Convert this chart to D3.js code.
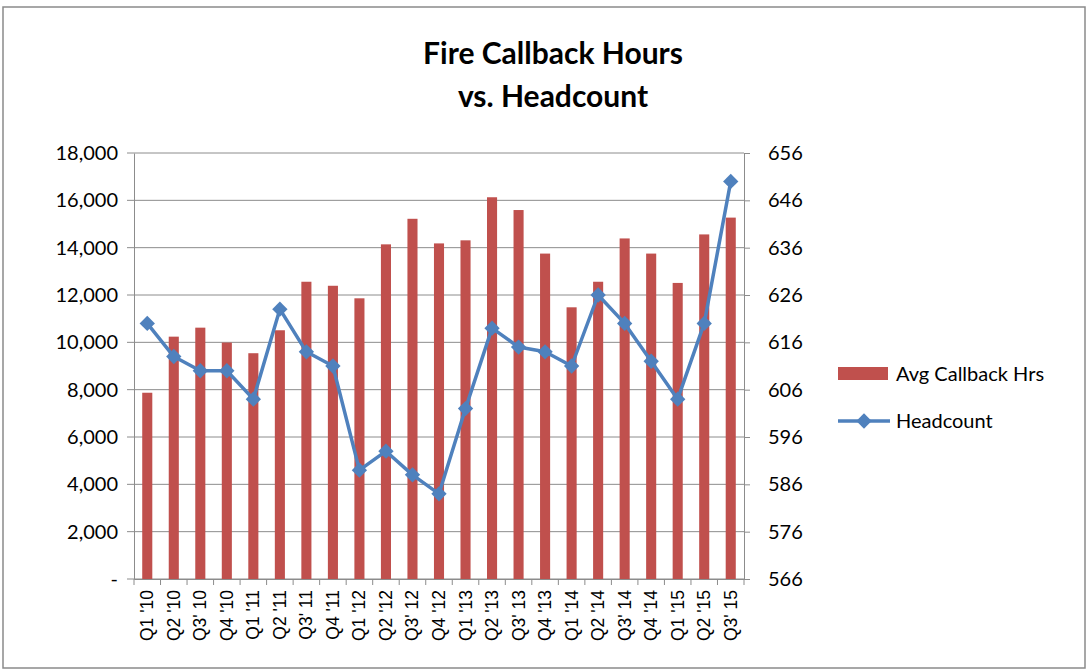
<!DOCTYPE html>
<html>
<head>
<meta charset="utf-8">
<script src="https://cdn.jsdelivr.net/npm/d3@7"></script>
<style>
  body { margin: 0; background: #fff; }
  svg { display: block; }
</style>
</head>
<body>
<svg id="chart" width="1090" height="669"></svg>
<script>
// quarters on the x axis
const quarters = ["Q1 '10", "Q2 '10", "Q3' 10", "Q4 '10",
                  "Q1 '11", "Q2 '11", "Q3' 11", "Q4 '11",
                  "Q1 '12", "Q2 '12", "Q3' 12", "Q4 '12",
                  "Q1 '13", "Q2 '13", "Q3' 13", "Q4 '13",
                  "Q1 '14", "Q2 '14", "Q3' 14", "Q4 '14",
                  "Q1 '15", "Q2 '15", "Q3' 15"];
// bar series (left axis)
const callbackHrs = [7870, 10240, 10620, 9990, 9540, 10510, 12560, 12390,
                     11860, 14140, 15220, 14180, 14310, 16130, 15590, 13750,
                     11480, 12560, 14390, 13750, 12510, 14560, 15270];
// line series (right axis)
const headcount = [620, 613, 610, 610, 604, 623, 614, 611,
                   589, 593, 588, 584, 602, 619, 615, 614,
                   611, 626, 620, 612, 604, 620, 650];
// tick values
const leftTicks = [0, 2000, 4000, 6000, 8000, 10000, 12000, 14000, 16000, 18000];
const rightTicks = [566, 576, 586, 596, 606, 616, 626, 636, 646, 656];

const plot = { left: 134, right: 744, top: 153, bottom: 579 };
const barColor = "#C0504D";
const lineColor = "#4F81BD";
const gridColor = "#8C8C8C";
const labelFont = "Lato, 'Open Sans', sans-serif";

const svg = d3.select("#chart");

// outer frame
svg.append("rect")
  .attr("x", 3).attr("y", 7)
  .attr("width", 1082).attr("height", 661)
  .attr("fill", "#fff")
  .attr("stroke", "#8a8a8a")
  .attr("stroke-width", 1.5);

// title
const title = svg.append("text")
  .attr("text-anchor", "middle")
  .attr("font-family", labelFont)
  .attr("font-weight", "bold")
  .attr("font-size", 30)
  .attr("fill", "#000");
title.append("tspan").attr("x", 553).attr("y", 64).text("Fire Callback Hours");
title.append("tspan").attr("x", 553).attr("y", 107).text("vs. Headcount");

// scales
const x = d3.scaleBand()
  .domain(quarters)
  .range([plot.left, plot.right])
  .paddingInner(0.62)
  .paddingOuter(0.31);
const xCenter = d => x(d) + x.bandwidth() / 2;

const yLeft = d3.scaleLinear().domain([0, 18000]).range([plot.bottom, plot.top]);
const yRight = d3.scaleLinear().domain([566, 656]).range([plot.bottom, plot.top]);

// gridlines (with tick stubs to the left)
svg.append("g")
  .selectAll("line")
  .data(leftTicks)
  .join("line")
  .attr("x1", plot.left - 7).attr("x2", plot.right)
  .attr("y1", d => yLeft(d)).attr("y2", d => yLeft(d))
  .attr("stroke", gridColor).attr("stroke-width", 1);

// left axis
const leftAxis = d3.axisLeft(yLeft)
  .tickValues(leftTicks)
  .tickSize(0)
  .tickPadding(16)
  .tickFormat(d => d === 0 ? "-" : d3.format(",")(d));
const gl = svg.append("g").attr("transform", `translate(${plot.left},0)`).call(leftAxis);
gl.select(".domain").attr("stroke", gridColor);
gl.selectAll("text").attr("font-family", labelFont).attr("font-size", 20).attr("fill", "#000");

// right axis
const rightAxis = d3.axisRight(yRight)
  .tickValues(rightTicks)
  .tickSize(6)
  .tickPadding(18);
const gr = svg.append("g").attr("transform", `translate(${plot.right},0)`).call(rightAxis);
gr.select(".domain").attr("stroke", gridColor);
gr.selectAll("line").attr("stroke", gridColor);
gr.selectAll("text").attr("font-family", labelFont).attr("font-size", 20).attr("fill", "#000");

// bottom axis
const xAxis = d3.axisBottom(x).tickSize(0).tickFormat("");
const gx = svg.append("g").attr("transform", `translate(0,${plot.bottom})`).call(xAxis);
gx.select(".domain").attr("stroke", gridColor);
// category boundary ticks
const boundaries = d3.range(quarters.length + 1).map(i => plot.left + i * (plot.right - plot.left) / quarters.length);
gx.selectAll(".bound")
  .data(boundaries)
  .join("line")
  .attr("class", "bound")
  .attr("x1", d => d).attr("x2", d => d)
  .attr("y1", 0).attr("y2", 6)
  .attr("stroke", gridColor);

// rotated quarter labels
svg.append("g")
  .selectAll("text")
  .data(quarters)
  .join("text")
  .attr("transform", d => `translate(${xCenter(d) + 6},${plot.bottom + 11}) rotate(-90)`)
  .attr("text-anchor", "end")
  .attr("font-family", "'Liberation Sans', Arial, sans-serif")
  .attr("font-size", 17.5)
  .attr("fill", "#000")
  .text(d => d);

// bars
svg.append("g")
  .selectAll("rect")
  .data(quarters)
  .join("rect")
  .attr("x", d => x(d))
  .attr("width", x.bandwidth())
  .attr("y", (d, i) => yLeft(callbackHrs[i]))
  .attr("height", (d, i) => yLeft(0) - yLeft(callbackHrs[i]))
  .attr("fill", barColor);

// headcount line
const line = d3.line()
  .x((d, i) => xCenter(quarters[i]))
  .y(d => yRight(d));
svg.append("path")
  .datum(headcount)
  .attr("d", line)
  .attr("fill", "none")
  .attr("stroke", lineColor)
  .attr("stroke-width", 3.5)
  .attr("stroke-linejoin", "round");

const diamond = d3.symbol().type(d3.symbolDiamond2).size(150);
svg.append("g")
  .selectAll("path")
  .data(headcount)
  .join("path")
  .attr("d", diamond)
  .attr("transform", (d, i) => `translate(${xCenter(quarters[i])},${yRight(d)})`)
  .attr("fill", lineColor);

// legend
const legend = svg.append("g").attr("font-family", labelFont).attr("font-size", 20).attr("fill", "#000");
legend.append("rect")
  .attr("x", 838).attr("y", 367).attr("width", 50).attr("height", 13)
  .attr("fill", barColor);
legend.append("text").attr("x", 896).attr("y", 381).text("Avg Callback Hrs");
legend.append("line")
  .attr("x1", 838).attr("x2", 890).attr("y1", 421).attr("y2", 421)
  .attr("stroke", lineColor).attr("stroke-width", 3.5);
legend.append("path")
  .attr("d", diamond)
  .attr("transform", "translate(864,421)")
  .attr("fill", lineColor);
legend.append("text").attr("x", 896).attr("y", 428).text("Headcount");
</script>
</body>
</html>
